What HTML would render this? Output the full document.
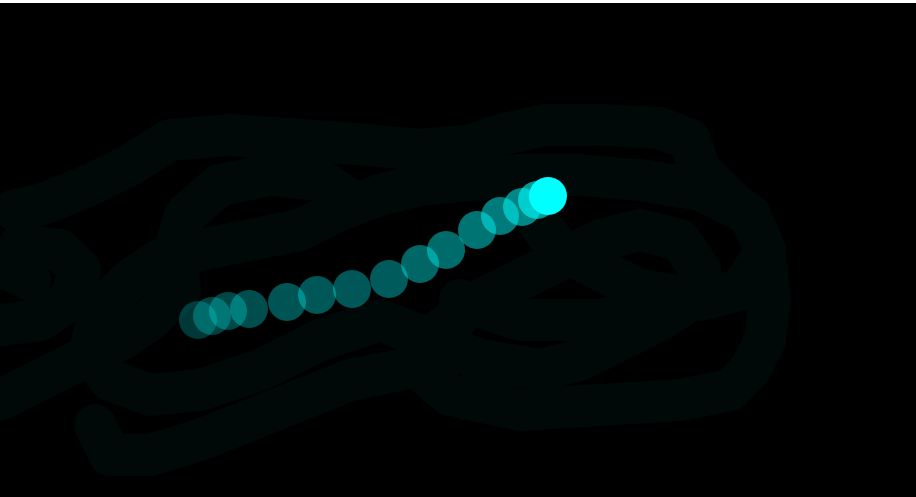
<!DOCTYPE html>
<html><head><meta charset="utf-8"><style>
html,body{margin:0;padding:0;background:#fff;}
#wrap{position:absolute;left:0;top:3px;width:916px;height:494px;background:#000;overflow:hidden}
svg{display:block}
</style></head><body>
<div id="wrap">
<svg id="s" width="916" height="494" viewBox="0 3 916 494">
<g fill="none" stroke="#010808" stroke-width="42" stroke-linecap="round" stroke-linejoin="round">
<path d="M15,210 L40,205 L90,185 L130,165 L170,140 L230,135 L300,140 L370,145 L420,150 L470,145 L500,135 L545,125 L600,125 L660,128 L690,140 L700,170 L730,200 L750,215 L765,250 L770,300 L765,340 L750,370 L730,390 L680,400 L600,405 L520,410 L450,395 L420,370 L440,330 L480,300 L520,280 L560,260 L600,240 L640,230 L680,240 L700,270 L690,300 L660,320 L620,340 L580,360 L540,370 L480,360 L430,340 L380,320 L320,340 L260,370 L200,390 L150,395 L110,380 L90,350 L100,310 L130,280 L160,260 L200,250 L250,240 L300,230 L340,210 L380,195 L420,185 L470,180 L520,175 L580,175 L640,180 L700,190 L740,210"/>
<path d="M0,325 L40,320 L70,300 L80,270 L60,250 L20,245 L10,270 L30,280"/>
<path d="M0,400 L40,380 L80,360 L120,340 L150,320 L180,290 L175,250 L185,215 L220,185 L270,175 L320,180 L350,200"/>
<path d="M95,425 L110,455 L150,455 L200,440 L250,420 L300,400 L350,380 L400,370"/>
<path d="M540,225 L560,250 L600,270 L640,290 L700,300 L740,290 L760,260"/>
<path d="M460,300 L520,320 L600,320 L680,300"/>
</g>
<g id="dots"></g>
</svg>
</div>
<script>
const xs=[198,212,228,249,287,317,352,389,420,446,477,500,522,537,548];
const ys=[320,316,311,309,302,295,289,279,264,250,230,216,207,200,196];
const alphas=[0.22,0.26,0.28,0.3,0.33,0.34,0.34,0.36,0.4,0.42,0.45,0.48,0.52,0.6,1];
const g=document.getElementById('dots');
const NS='http://www.w3.org/2000/svg';
for(let i=0;i<xs.length;i++){
  const c=document.createElementNS(NS,'circle');
  c.setAttribute('cx',xs[i]);c.setAttribute('cy',ys[i]);c.setAttribute('r',19);
  c.setAttribute('fill','#00ffff');c.setAttribute('fill-opacity',alphas[i]);
  
  
  g.appendChild(c);
}
</script>
</body></html>
